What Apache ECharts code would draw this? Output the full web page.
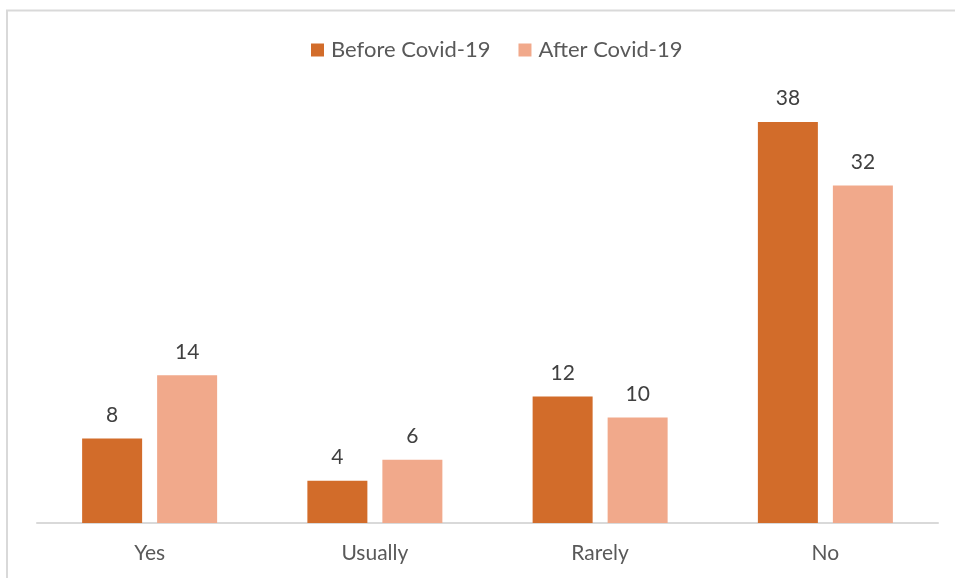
<!DOCTYPE html>
<html><head><meta charset="utf-8">
<script src="https://cdn.jsdelivr.net/npm/echarts@6/dist/echarts.min.js"></script>
<style>html,body{margin:0;padding:0;background:#fff}#c{width:955px;height:578px}</style>
</head><body><div id="c"></div>
<script>
const categories = ['Yes', 'Usually', 'Rarely', 'No'];
const beforeCovid = [8, 4, 12, 38];
const afterCovid = [14, 6, 10, 32];
const seriesNames = ['Before Covid-19', 'After Covid-19'];

const chart = echarts.init(document.getElementById('c'));
const font = 'Lato, "Open Sans", sans-serif';
const lbl = {show: true, position: 'top', distance: 13, color: '#404040', fontSize: 21, fontFamily: font};
chart.setOption({
  animation: false,
  graphic: [{type: 'rect', shape: {x: 7, y: 10.5, width: 1100, height: 800}, style: {fill: 'none', stroke: '#d9d9d9', lineWidth: 2}, silent: true}],
  legend: {
    top: 34, left: 306, itemWidth: 13, itemHeight: 13, itemGap: 28,
    icon: 'rect',
    textStyle: {color: '#595959', fontSize: 22, fontFamily: font, padding: [0, 0, 0, 2]},
    data: seriesNames
  },
  grid: {left: 37, right: 17, top: 101, bottom: 55},
  xAxis: {
    type: 'category', data: categories,
    axisLine: {lineStyle: {color: '#d9d9d9', width: 2}},
    axisTick: {show: false},
    axisLabel: {color: '#595959', fontSize: 21, fontFamily: font, margin: 20}
  },
  yAxis: {type: 'value', min: 0, max: 40, show: false, splitLine: {show: false}},
  series: [
    {name: seriesNames[0], type: 'bar', data: beforeCovid, barWidth: 60, barGap: '25%', itemStyle: {color: '#d26c2a'}, label: lbl},
    {name: seriesNames[1], type: 'bar', data: afterCovid, barWidth: 60, itemStyle: {color: '#f1a98b'}, label: lbl}
  ]
});
</script></body></html>
